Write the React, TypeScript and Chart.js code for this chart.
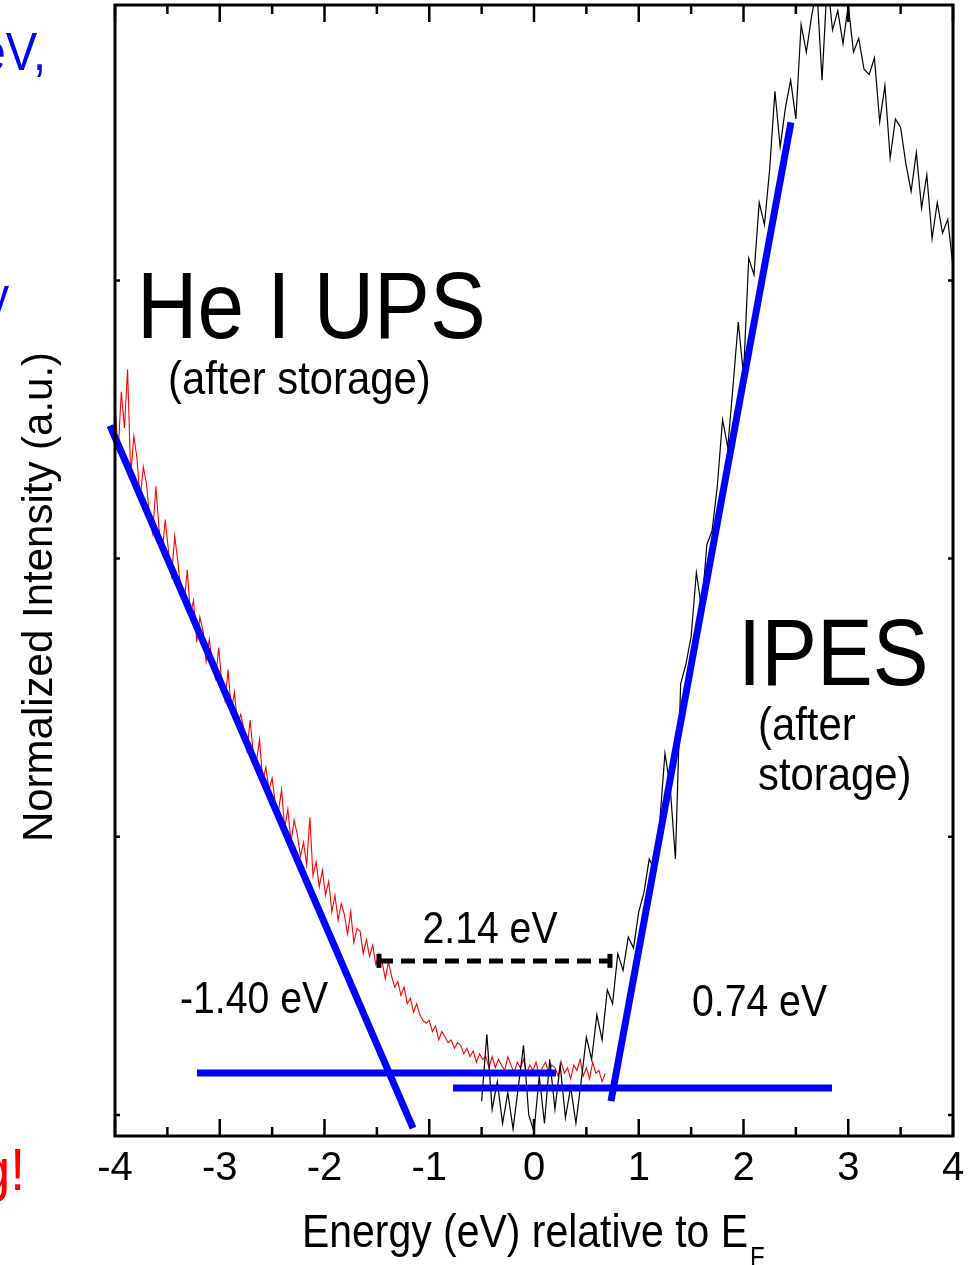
import React, { useEffect, useRef } from "react";
import { Chart, registerables } from "chart.js";

Chart.register(...registerables);

// ---------- data ----------
// He I UPS (after storage), red, uniform energy grid
const upsStart = -4.0;
const upsStep = 0.03;
const upsIntensity = [
  2.55, 2.38, 2.60, 2.47, 2.68, 2.30, 2.44, 2.36, 2.21, 2.33,
  2.27, 2.15, 2.09, 2.26, 2.11, 2.02, 2.14, 2.03, 1.94, 2.08,
  1.99, 1.88, 1.84, 1.96, 1.80, 1.85, 1.70, 1.79, 1.74, 1.63,
  1.71, 1.62, 1.57, 1.68, 1.55, 1.49, 1.60, 1.45, 1.52, 1.40,
  1.44, 1.39, 1.31, 1.42, 1.30, 1.27, 1.35, 1.20, 1.25, 1.17,
  1.21, 1.12, 1.09, 1.17, 1.03, 1.10, 0.98, 1.06, 1.01, 0.93,
  0.98, 0.90, 1.07, 0.86, 0.91, 0.82, 0.88, 0.79, 0.84, 0.73,
  0.79, 0.70, 0.76, 0.72, 0.65, 0.73, 0.62, 0.67, 0.66, 0.58,
  0.63, 0.57, 0.61, 0.54, 0.58, 0.55, 0.49, 0.55, 0.50, 0.46,
  0.48, 0.43, 0.46, 0.40, 0.42, 0.37, 0.40, 0.36, 0.34, 0.33,
  0.34, 0.30, 0.32, 0.27, 0.30, 0.28, 0.26, 0.27, 0.24, 0.26,
  0.25, 0.22, 0.24, 0.21, 0.23, 0.19, 0.22, 0.20, 0.21, 0.17,
  0.21, 0.17, 0.20, 0.18, 0.16, 0.21, 0.18, 0.15, 0.19, 0.17,
  0.20, 0.15, 0.18, 0.16, 0.19, 0.14, 0.17, 0.19, 0.15, 0.18,
  0.17, 0.14, 0.19, 0.15, 0.17, 0.13, 0.18, 0.16, 0.20, 0.14,
  0.17, 0.13, 0.19, 0.15, 0.16, 0.12, 0.15,
];

// IPES (after storage), black
const ipesStart = -0.5;
const ipesStep = 0.05;
const ipesIntensity = [
  0.05, 0.29, 0.02, 0.12, -0.03, 0.08, -0.05, 0.10, 0.25, 0.00,
  -0.06, 0.14, -0.03, 0.20, 0.02, 0.18, -0.01, 0.10, -0.03, 0.12,
  0.28, 0.20, 0.36, 0.27, 0.45, 0.40, 0.58, 0.52, 0.64, 0.60,
  0.73, 0.80, 0.92, 0.88, 1.05, 1.30, 1.18, 0.92, 1.55, 1.62,
  1.72, 1.95, 1.82, 2.05, 2.10, 2.26, 2.50, 2.40, 2.62, 2.85,
  2.66, 3.08, 3.02, 3.28, 3.20, 3.40, 3.68, 3.48, 3.62, 3.72,
  3.58, 3.92, 3.82, 3.95, 4.05, 3.72, 4.08, 3.90, 3.97, 3.85,
  3.99, 3.82, 3.87, 3.76, 3.74, 3.80, 3.57, 3.70, 3.44, 3.58,
  3.55, 3.42, 3.32, 3.46, 3.26, 3.38, 3.15, 3.28, 3.17, 3.22,
  3.05,
];

// linear extrapolation lines (blue)
const upsFitX = [-4.048, -1.155];
const upsFitY = [2.478, -0.047];
const upsBaseX = [-3.217, 0.21];
const upsBaseY = [0.151, 0.151];
const ipesBaseX = [-0.773, 2.845];
const ipesBaseY = [0.097, 0.097];
const ipesFitX = [0.735, 2.453];
const ipesFitY = [0.05, 3.568];

// gap marker (dashed)
const gapX = [-1.48, 0.725];
const gapY = [0.554, 0.554];

// axes
const xTickValues = [-4, -3, -2, -1, 0, 1, 2, 3, 4];
const xMinorValues = [-3.5, -2.5, -1.5, -0.5, 0.5, 1.5, 2.5, 3.5];
const yTickValues = [0, 1, 2, 3];
const xMin = -4;
const xMax = 4;
const yMin = -0.0755;
const yMax = 3.99;

// labels
const xTitleMain = "Energy (eV) relative to E";
const xTitleSub = "F";
const yTitle = "Normalized Intensity (a.u.)";
const upsLabel = "He I UPS";
const upsSubLabel = "(after storage)";
const ipesLabel = "IPES";
const ipesSubLabel1 = "(after";
const ipesSubLabel2 = "storage)";
const gapLabel = "2.14 eV";
const vbmLabel = "-1.40 eV";
const cbmLabel = "0.74 eV";

const FONT = "'Liberation Sans', Arial, Helvetica, sans-serif";
const BLUE = "#0000ff";
const RED = "#ff0000";

function pts(xs: number[], ys: number[]) {
  return xs.map((x, i) => ({ x, y: ys[i] }));
}

function gridPts(start: number, step: number, ys: number[]) {
  return ys.map((y, i) => ({ x: +(start + i * step).toFixed(3), y }));
}

function drawText(
  ctx: CanvasRenderingContext2D,
  text: string,
  x: number,
  y: number,
  size: number,
  color: string,
  align: CanvasTextAlign = "left",
  sx = 0.89
) {
  ctx.save();
  ctx.translate(x, y);
  ctx.scale(sx, 1);
  ctx.font = `${size}px ${FONT}`;
  ctx.fillStyle = color;
  ctx.textAlign = align;
  ctx.textBaseline = "alphabetic";
  ctx.fillText(text, 0, 0);
  ctx.restore();
}

const framePlugin = {
  id: "frame",
  afterDatasetsDraw(chart: any) {
    const { ctx, chartArea, scales } = chart;
    const { left, right, top, bottom } = chartArea;
    const xs = scales.x;
    const ys = scales.y;
    ctx.save();
    ctx.strokeStyle = "#000";
    ctx.lineWidth = 3;
    ctx.strokeRect(left, top, right - left, bottom - top);
    ctx.lineWidth = 2.5;
    ctx.beginPath();
    for (const v of xTickValues) {
      const px = xs.getPixelForValue(v);
      ctx.moveTo(px, bottom);
      ctx.lineTo(px, bottom - 17);
      ctx.moveTo(px, top);
      ctx.lineTo(px, top + 17);
    }
    for (const v of xMinorValues) {
      const px = xs.getPixelForValue(v);
      ctx.moveTo(px, bottom);
      ctx.lineTo(px, bottom - 9);
      ctx.moveTo(px, top);
      ctx.lineTo(px, top + 9);
    }
    for (const v of yTickValues) {
      const py = ys.getPixelForValue(v);
      ctx.moveTo(left, py);
      ctx.lineTo(left + 5, py);
      ctx.moveTo(right, py);
      ctx.lineTo(right - 5, py);
    }
    ctx.stroke();
    ctx.restore();
  },
  afterDraw(chart: any) {
    const ctx: CanvasRenderingContext2D = chart.ctx;
    // annotations
    drawText(ctx, upsLabel, 137, 338, 94, "#000");
    drawText(ctx, upsSubLabel, 168, 394, 47, "#000");
    drawText(ctx, ipesLabel, 738, 685, 94, "#000");
    drawText(ctx, ipesSubLabel1, 758, 740, 47, "#000");
    drawText(ctx, ipesSubLabel2, 758, 790, 47, "#000");
    drawText(ctx, gapLabel, 490, 943, 44, "#000", "center");
    drawText(ctx, vbmLabel, 180, 1013, 44, "#000");
    drawText(ctx, cbmLabel, 692, 1016, 44, "#000");
    // partial slide text on the left edge
    drawText(ctx, "eV,", 46, 70, 53, BLUE, "right");
    drawText(ctx, "y", 9, 314, 53, BLUE, "right");
    drawText(ctx, "g!", 25, 1190, 60, RED, "right");
    // x title with subscript
    ctx.save();
    ctx.font = `46px ${FONT}`;
    const w = ctx.measureText(xTitleMain).width * 0.89;
    ctx.restore();
    drawText(ctx, xTitleMain, 302, 1247, 46, "#000");
    drawText(ctx, xTitleSub, 302 + w + 2, 1266, 27, "#000");
    // y title rotated
    ctx.save();
    ctx.translate(52, 597);
    ctx.rotate(-Math.PI / 2);
    ctx.font = `42px ${FONT}`;
    ctx.fillStyle = "#000";
    ctx.textAlign = "center";
    ctx.textBaseline = "alphabetic";
    ctx.fillText(yTitle, 0, 0);
    ctx.restore();
  },
};

export default function App() {
  const ref = useRef<HTMLCanvasElement | null>(null);

  useEffect(() => {
    document.body.style.margin = "0";
    const canvas = ref.current;
    if (!canvas) return;
    const blueLine = (data: any[]) => ({
      data,
      showLine: true,
      borderColor: BLUE,
      backgroundColor: BLUE,
      borderWidth: 7,
      pointRadius: 0,
      borderCapStyle: "butt",
      clip: false,
      order: 0,
    });
    const chart = new Chart(canvas, {
      type: "scatter",
      data: {
        datasets: [
          {
            data: gridPts(ipesStart, ipesStep, ipesIntensity),
            showLine: true,
            borderColor: "#000",
            borderWidth: 1.2,
            pointRadius: 0,
            order: 2,
          },
          {
            data: gridPts(upsStart, upsStep, upsIntensity),
            showLine: true,
            borderColor: RED,
            borderWidth: 1.1,
            pointRadius: 0,
            order: 2,
          },
          blueLine(pts(upsFitX, upsFitY)),
          blueLine(pts(upsBaseX, upsBaseY)),
          blueLine(pts(ipesBaseX, ipesBaseY)),
          blueLine(pts(ipesFitX, ipesFitY)),
          {
            data: pts(gapX, gapY),
            showLine: true,
            borderColor: "#000",
            borderWidth: 5,
            borderDash: [14, 8],
            pointRadius: 0,
            order: 1,
          },
          {
            data: pts(gapX, gapY),
            showLine: false,
            pointStyle: "line",
            rotation: 90,
            pointRadius: 7,
            borderColor: "#000",
            backgroundColor: "#000",
            pointBorderWidth: 5,
            borderWidth: 5,
            order: 1,
          },
        ] as any,
      },
      options: {
        responsive: false,
        animation: false,
        events: [],
        layout: {
          autoPadding: false,
          padding: { left: 115, right: 23, top: 5, bottom: 71 },
        },
        plugins: {
          legend: { display: false },
          tooltip: { enabled: false },
          title: { display: false },
        },
        scales: {
          x: {
            type: "linear",
            min: xMin,
            max: xMax,
            grid: { display: false },
            border: { display: false },
            afterBuildTicks: (axis: any) => {
              axis.ticks = xTickValues.map((v) => ({ value: v }));
            },
            ticks: {
              color: "#000",
              padding: 1,
              font: { family: FONT, size: 40 },
              maxRotation: 0,
              callback: (v: any) => String(v),
            },
          },
          y: {
            type: "linear",
            display: false,
            min: yMin,
            max: yMax,
          },
        },
      } as any,
      plugins: [framePlugin],
    });
    return () => chart.destroy();
  }, []);

  return (
    <canvas
      ref={ref}
      width={976}
      height={1265}
      style={{ display: "block", width: 976, height: 1265 }}
    />
  );
}
